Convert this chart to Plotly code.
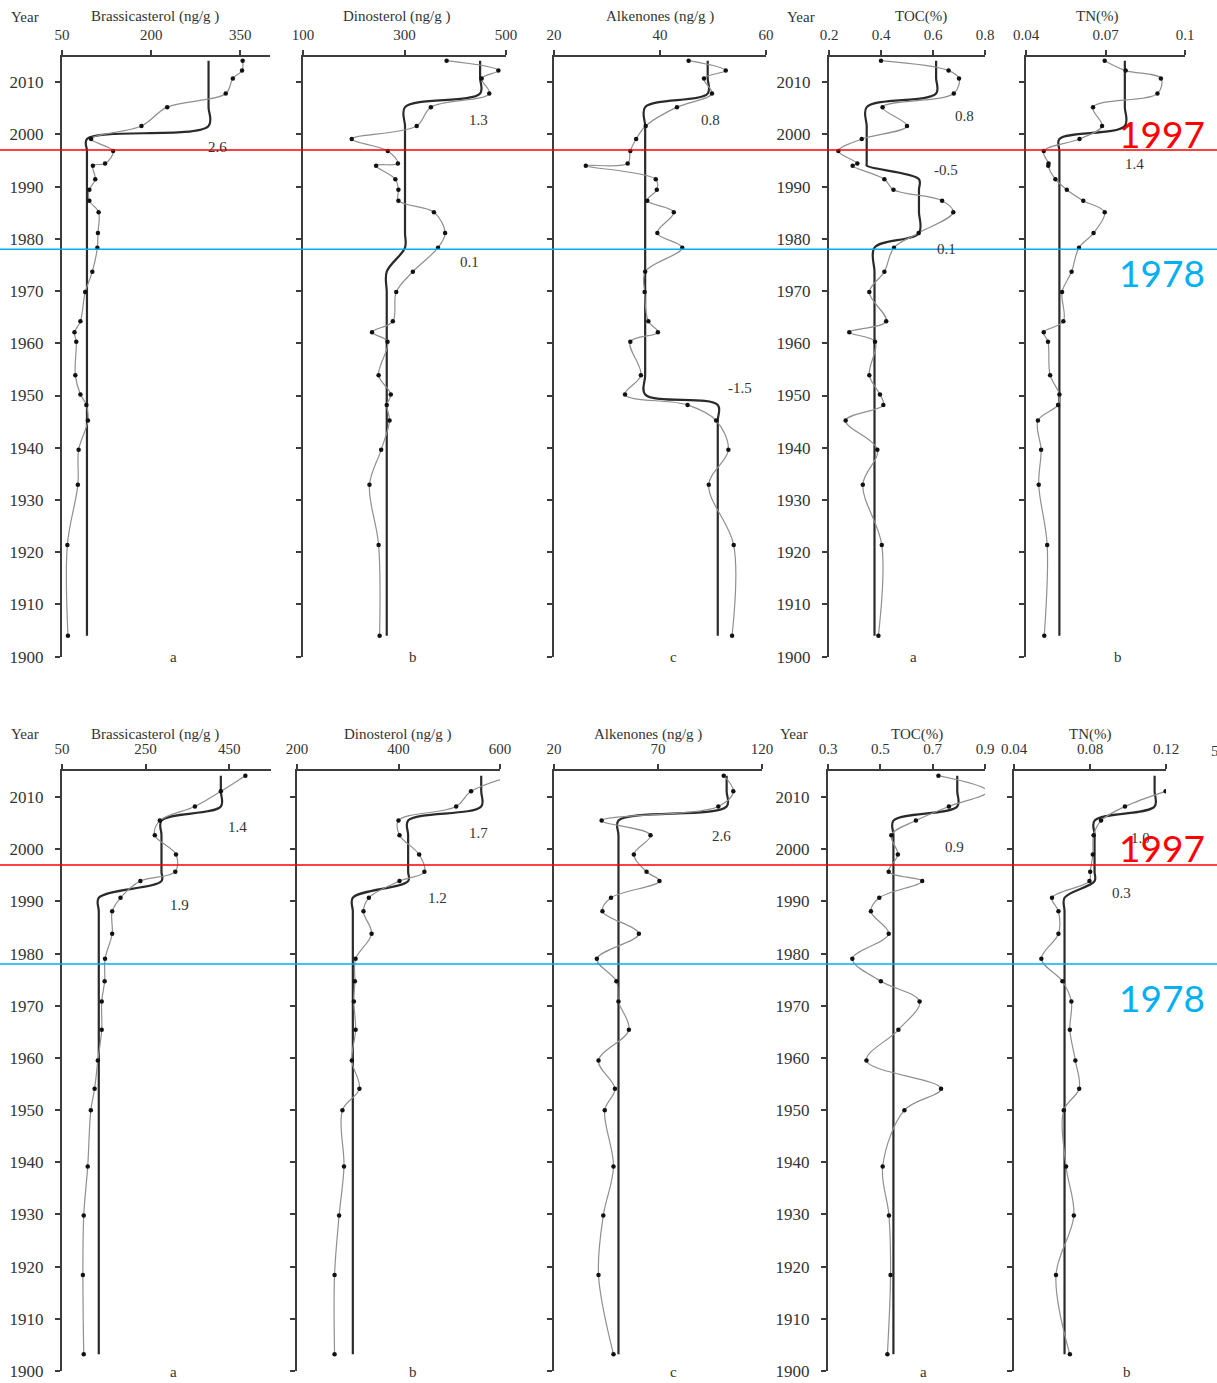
import plotly.graph_objects as go

W, H = 1217, 1383

# ---------------------------------------------------------------- data
# Sample years of the two sediment cores
YEARS_A = [2014.1, 2012.2, 2010.7, 2007.8, 2005.2, 2001.6, 1999.1, 1996.8, 1994.4, 1994.0,
           1991.4, 1989.4, 1987.3, 1985.1, 1981.1, 1978.3, 1973.7, 1969.8, 1964.2, 1962.1,
           1960.3, 1953.9, 1950.2, 1948.2, 1945.2, 1939.6, 1932.9, 1921.4, 1904.0]
YEARS_B = [2014.1, 2011.1, 2008.2, 2005.5, 2002.7, 1999.0, 1995.7, 1993.9, 1990.7, 1988.1,
           1983.8, 1979.0, 1974.7, 1970.8, 1965.4, 1959.5, 1954.1, 1950.0, 1939.2, 1929.8,
           1918.4, 1903.2]

# Core A
BRASS_A = [354, 353, 337.5, 325.5, 227, 183.7, 99, 136, 122.5, 102, 106, 96, 96, 111.6, 110.5,
           109.5, 101, 89, 81, 71, 74, 72.4, 81, 91, 93.6, 78, 76.7, 59, 60]
DINO_A = [383, 485, 452, 467, 352, 324, 196, 267, 287, 244, 282, 288, 288, 358, 380, 366,
          316.5, 283.7, 277, 236, 266.5, 249, 273, 265, 270.5, 254, 231, 249, 251]
ALK_A = [45.4, 52.4, 48.3, 49.8, 43.2, 37.3, 35.5, 34.4, 33.9, 26.0, 39.2, 39.4, 37.6, 42.6,
         39.5, 44.2, 37.2, 37.1, 37.8, 39.6, 34.4, 36.4, 33.4, 45.2, 50.6, 52.9, 49.2, 53.9, 53.6]
TOC_A = [0.40, 0.66, 0.70, 0.68, 0.406, 0.50, 0.326, 0.236, 0.309, 0.291, 0.413, 0.448, 0.635,
         0.678, 0.545, 0.45, 0.413, 0.355, 0.42, 0.278, 0.377, 0.355, 0.396, 0.409, 0.264,
         0.386, 0.33, 0.403, 0.39]
TN_A = [0.0697, 0.0776, 0.0909, 0.0896, 0.0653, 0.0687, 0.0602, 0.0467, 0.0485, 0.0484,
        0.0511, 0.0554, 0.0616, 0.0697, 0.0655, 0.0600, 0.0572, 0.0536, 0.0541, 0.0467,
        0.0483, 0.0491, 0.0526, 0.0521, 0.0445, 0.0457, 0.0448, 0.0480, 0.0469]

# Core B
BRASS_B = [488.7, 430, 368, 284, 272, 322.7, 321, 237.5, 190, 170, 170, 153, 152, 145, 145,
           135.7, 128, 119, 111.5, 102, 100, 102]
DINO_B = [625, 543, 513.6, 400, 402, 440.7, 451, 402, 341.6, 331, 347, 315.4, 314, 312, 315.5,
          308, 323, 289.5, 292.6, 283, 274, 274]
ALK_B = [101.6, 106.2, 99, 42.9, 66.4, 58.4, 64.5, 70.7, 47.4, 43.3, 60.8, 40.6, 50, 51, 56,
         41.4, 49.3, 44.4, 48.6, 43.7, 41.4, 48.6]
TOC_B = [0.722, 0.91, 0.762, 0.636, 0.542, 0.567, 0.532, 0.66, 0.496, 0.464, 0.532, 0.393,
         0.502, 0.65, 0.569, 0.447, 0.732, 0.592, 0.509, 0.533, 0.539, 0.527]
TN_B = [None, 0.1198, 0.0984, 0.0858, 0.0819, 0.0815, 0.0801, 0.0797, 0.0600, 0.0634, 0.0634,
        0.0544, 0.0655, 0.0702, 0.0694, 0.0723, 0.0743, 0.0662, 0.0674, 0.0715, 0.0621, 0.0694]

# Regime means: (number of consecutive samples, regime mean)
BRASS_A_REG = [(6, 296.6), (23, 92)]
DINO_A_REG = [(4, 449), (12, 301), (13, 265)]
ALK_A_REG = [(4, 49.0), (19, 37.2), (6, 50.9)]
TOC_A_REG = [(4, 0.612), (6, 0.345), (5, 0.546), (14, 0.375)]
TN_A_REG = [(6, 0.0773), (23, 0.0526)]
BRASS_B_REG = [(3, 430), (5, 288), (14, 138)]
DINO_B_REG = [(3, 563), (5, 419), (14, 310)]
ALK_B_REG = [(3, 103), (19, 51)]
TOC_B_REG = [(3, 0.794), (19, 0.55)]
TN_B_REG = [(3, 0.114), (5, 0.0824), (14, 0.0666)]

# Regime shift index labels: (text, value, year)
BRASS_A_RSI = [("2.6", 311, 1997.6)]
DINO_A_RSI = [("1.3", 445, 2002.7), ("0.1", 429, 1975.6)]
ALK_A_RSI = [("0.8", 49.6, 2002.7), ("-1.5", 55.1, 1951.5)]
TOC_A_RSI = [("0.8", 0.723, 2003.5), ("-0.5", 0.65, 1993.1), ("0.1", 0.65, 1978.1)]
TN_A_RSI = [("1.4", 0.0811, 1994.4)]
BRASS_B_RSI = [("1.4", 470, 2004.2), ("1.9", 332, 1989.4)]
DINO_B_RSI = [("1.7", 558, 2003.2), ("1.2", 477, 1990.6)]
ALK_B_RSI = [("2.6", 100.6, 2002.6)]
TOC_B_RSI = [("0.9", 0.783, 2000.5)]
TN_B_RSI = [("1.0", 0.1067, 2002.2), ("0.3", 0.0966, 1991.6)]

SHIFT_YEARS = [1997, 1978]
SHIFT_COLORS = ["#FF0000", "#00B0F0"]

# ---------------------------------------------------------------- layout
SERIF = "Liberation Serif"
INK = "#333333"
AXIS = "#3c3c3c"

ROWS = [
    dict(years=YEARS_A, top=57, bottom=656.7, yrange=[1900, 2014.8], title_y=17, letter_y=657),
    dict(years=YEARS_B, top=771, bottom=1371, yrange=[1900, 2015], title_y=734, letter_y=1372),
]

PANELS = [
    dict(row=0, title="Brassicasterol (ng/g )", tx=155, dom=(62, 270), rng=[50, 400],
         ticks=[50, 200, 350], labels=None, vals=BRASS_A, reg=BRASS_A_REG, rsi=BRASS_A_RSI,
         letter="a", lx=173, years=True, year_x=25),
    dict(row=0, title="Dinosterol (ng/g )", tx=396, dom=(303, 506), rng=[100, 500],
         ticks=[100, 300, 500], labels=None, vals=DINO_A, reg=DINO_A_REG, rsi=DINO_A_RSI,
         letter="b", lx=413, years=False),
    dict(row=0, title="Alkenones (ng/g )", tx=660, dom=(554, 766), rng=[20, 60],
         ticks=[20, 40, 60], labels=None, vals=ALK_A, reg=ALK_A_REG, rsi=ALK_A_RSI,
         letter="c", lx=673, years=False),
    dict(row=0, title="TOC(%)", tx=921, dom=(829, 985), rng=[0.2, 0.8],
         ticks=[0.2, 0.4, 0.6, 0.8], labels=["0.2", "0.4", "0.6", "0.8"], vals=TOC_A,
         reg=TOC_A_REG, rsi=TOC_A_RSI, letter="a", lx=913, years=True, year_x=801),
    dict(row=0, title="TN(%)", tx=1097, dom=(1026, 1185), rng=[0.04, 0.1],
         ticks=[0.04, 0.07, 0.1], labels=["0.04", "0.07", "0.1"], vals=TN_A, reg=TN_A_REG,
         rsi=TN_A_RSI, letter="b", lx=1118, years=False),
    dict(row=1, title="Brassicasterol (ng/g )", tx=155, dom=(62, 271), rng=[50, 550],
         ticks=[50, 250, 450], labels=None, vals=BRASS_B, reg=BRASS_B_REG, rsi=BRASS_B_RSI,
         letter="a", lx=173, years=True, year_x=25),
    dict(row=1, title="Dinosterol (ng/g )", tx=397, dom=(297, 500), rng=[200, 600],
         ticks=[200, 400, 600], labels=None, vals=DINO_B, reg=DINO_B_REG, rsi=DINO_B_RSI,
         letter="b", lx=413, years=False),
    dict(row=1, title="Alkenones (ng/g )", tx=648, dom=(554, 762), rng=[20, 120],
         ticks=[20, 70, 120], labels=None, vals=ALK_B, reg=ALK_B_REG, rsi=ALK_B_RSI,
         letter="c", lx=673, years=False),
    dict(row=1, title="TOC(%)", tx=917, dom=(828, 985), rng=[0.3, 0.9],
         ticks=[0.3, 0.5, 0.7, 0.9], labels=["0.3", "0.5", "0.7", "0.9"], vals=TOC_B,
         reg=TOC_B_REG, rsi=TOC_B_RSI, letter="a", lx=923, years=True, year_x=794),
    dict(row=1, title="TN(%)", tx=1090, dom=(1014, 1166), rng=[0.04, 0.12],
         ticks=[0.04, 0.08, 0.12], labels=["0.04", "0.08", "0.12"], vals=TN_B,
         reg=TN_B_REG, rsi=TN_B_RSI, letter="b", lx=1127, years=False),
]


def px_x(p):
    return p / W


def px_y(p):
    return 1 - p / H


fig = go.Figure()
axes = {}
annotations = []
shapes = []

for i, p in enumerate(PANELS, start=1):
    row = ROWS[p["row"]]
    xa, ya = ("x", "y") if i == 1 else (f"x{i}", f"y{i}")
    years = row["years"]

    # regime means as a smoothed step line
    step = []
    for n, m in p["reg"]:
        step += [m] * n
    fig.add_trace(go.Scatter(
        x=step, y=years, xaxis=xa, yaxis=ya, mode="lines",
        line=dict(color="#2a2a2a", width=2.2, shape="spline", smoothing=1.0),
        hoverinfo="skip", showlegend=False))
    # measured profile
    fig.add_trace(go.Scatter(
        x=p["vals"], y=years, xaxis=xa, yaxis=ya, mode="lines+markers",
        line=dict(color="#8f8f8f", width=1.2, shape="spline", smoothing=1.0),
        marker=dict(color="#111111", size=4.5),
        showlegend=False))

    axes["xaxis" if i == 1 else f"xaxis{i}"] = dict(
        domain=[px_x(p["dom"][0]), px_x(p["dom"][1])], range=p["rng"], anchor=ya,
        side="top", showline=True, linecolor=AXIS, linewidth=1.5, mirror=False,
        ticks="outside", ticklen=5, tickwidth=1.5, tickcolor=AXIS,
        tickvals=p["ticks"], ticktext=p["labels"] if p["labels"] else [str(t) for t in p["ticks"]],
        tickfont=dict(family=SERIF, size=15, color=INK), ticklabelstandoff=4,
        showgrid=False, zeroline=False, fixedrange=True, automargin=False)
    axes["yaxis" if i == 1 else f"yaxis{i}"] = dict(
        domain=[px_y(row["bottom"]), px_y(row["top"])], range=row["yrange"], anchor=xa,
        showline=True, linecolor=AXIS, linewidth=2, ticks="outside", ticklen=5,
        tickwidth=1.5, tickcolor=AXIS, tickvals=list(range(1900, 2011, 10)),
        showticklabels=p["years"], tickfont=dict(family=SERIF, size=17, color=INK),
        ticklabelstandoff=8, showgrid=False, zeroline=False, fixedrange=True,
        automargin=False)

    annotations.append(dict(
        xref="paper", yref="paper", x=px_x(p["tx"]), y=px_y(row["title_y"]),
        text=p["title"], showarrow=False, xanchor="center", yanchor="middle",
        font=dict(family=SERIF, size=15, color=INK)))
    if p["years"]:
        annotations.append(dict(
            xref="paper", yref="paper", x=px_x(p["year_x"]), y=px_y(row["title_y"]),
            text="Year", showarrow=False, xanchor="center", yanchor="middle",
            font=dict(family=SERIF, size=15, color=INK)))
    annotations.append(dict(
        xref="paper", yref="paper", x=px_x(p["lx"]), y=px_y(row["letter_y"]),
        text=p["letter"], showarrow=False, xanchor="center", yanchor="middle",
        font=dict(family=SERIF, size=15, color=INK)))
    for txt, v, yr in p["rsi"]:
        annotations.append(dict(
            xref=xa, yref=ya, x=v, y=yr, text=txt, showarrow=False,
            xanchor="center", yanchor="middle",
            font=dict(family=SERIF, size=15, color=INK)))

# partially visible neighbouring panel at the right edge of the lower row
axes["xaxis11"] = dict(domain=[1215 / W, 1.0], range=[0, 1], anchor="y11", side="top",
                       showline=True, linecolor=AXIS, linewidth=1.5, showticklabels=False,
                       ticks="", showgrid=False, zeroline=False, fixedrange=True,
                       automargin=False)
axes["yaxis11"] = dict(domain=[px_y(ROWS[1]["bottom"]), px_y(ROWS[1]["top"])],
                       range=ROWS[1]["yrange"], anchor="x11", showline=True, linecolor=AXIS,
                       linewidth=2, ticks="outside", ticklen=5, tickwidth=1.5, tickcolor=AXIS,
                       tickvals=list(range(1900, 2011, 10)), showticklabels=False,
                       showgrid=False, zeroline=False, fixedrange=True, automargin=False)
annotations.append(dict(xref="paper", yref="paper", x=px_x(1209), y=px_y(751), text="5",
                        showarrow=False, xanchor="left", yanchor="middle",
                        font=dict(family=SERIF, size=15, color=INK)))

# regime shift years across each row, with their labels
label_px = {(0, 1997): 133, (0, 1978): 272, (1, 1997): 847, (1, 1978): 997}
for r, ya in ((0, "y"), (1, "y6")):
    for yr, col in zip(SHIFT_YEARS, SHIFT_COLORS):
        shapes.append(dict(type="line", xref="paper", yref=ya, x0=0, x1=1, y0=yr, y1=yr,
                           line=dict(color=col, width=1.5), layer="above"))
        annotations.append(dict(xref="paper", yref="paper", x=px_x(1162),
                                y=px_y(label_px[(r, yr)]), text=str(yr), showarrow=False,
                                xanchor="center", yanchor="middle",
                                font=dict(family="Lato, Open Sans, sans-serif", size=37,
                                          color=col)))

fig.update_layout(
    template="none",
    font=dict(family=SERIF, size=15, color=INK),
    width=W, height=H, margin=dict(l=0, r=0, t=0, b=0, pad=0, autoexpand=False),
    paper_bgcolor="white", plot_bgcolor="white", showlegend=False,
    annotations=annotations, shapes=shapes, **axes)

fig.write_html("out.html")
